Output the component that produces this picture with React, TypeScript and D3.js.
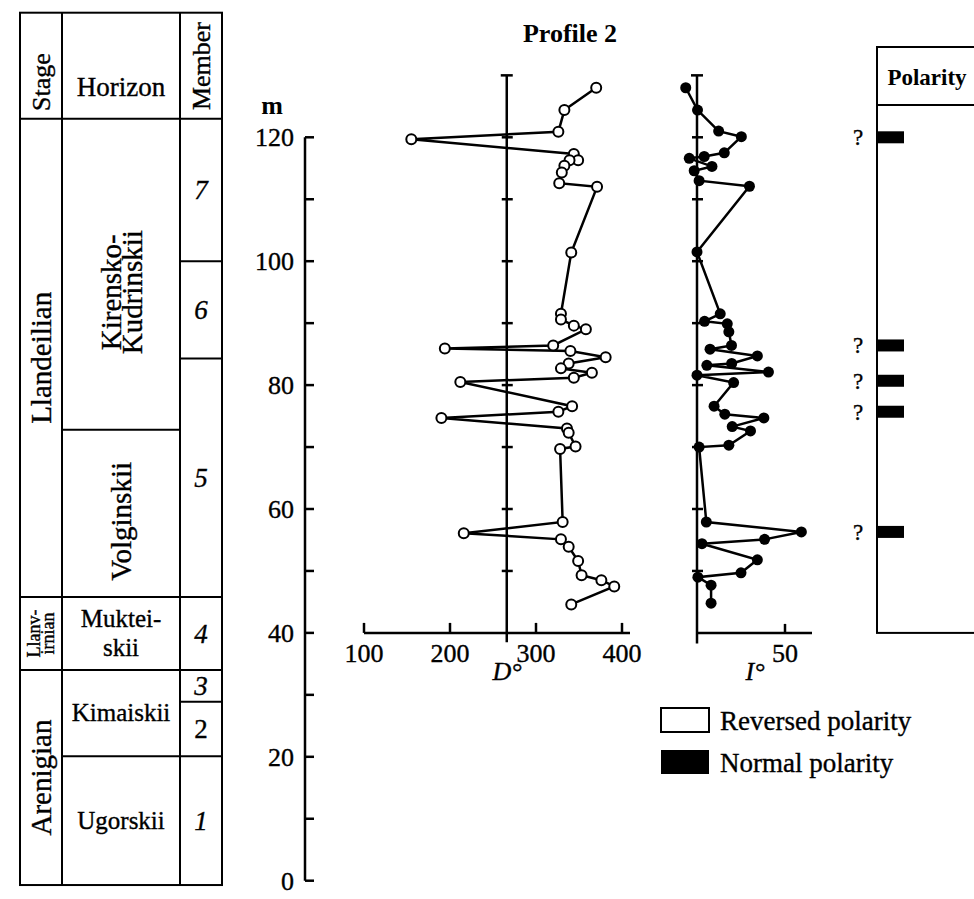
import React from 'react';
import * as d3 from 'd3';

// ---------- data ----------
const depthTicks = [0, 10, 20, 30, 40, 50, 60, 70, 80, 90, 100, 110, 120];
const depthLabels = [0, 20, 40, 60, 80, 100, 120];
const refTicks = [50, 60, 70, 80, 90, 100, 110, 120];
const dTicks = [100, 200, 300, 400];
const iTicks = [50];

// Declination D (open circles = reversed)
const dDepth = [128.0, 124.4, 120.9, 119.7, 117.3, 116.3, 116.3, 115.4, 114.3, 112.6, 112.0, 101.4, 91.5, 90.6, 89.6, 89.0, 86.4, 85.9, 85.5, 84.5, 83.5, 82.7, 82.0, 81.2, 80.5, 76.6, 75.7, 74.7, 73.0, 72.3, 70.1, 69.7, 57.9, 56.1, 55.1, 53.9, 51.6, 49.3, 48.5, 47.5, 44.6];
const dValue = [370, 333, 326, 155, 344, 349, 339, 333, 330, 327, 371, 341, 329, 329, 344, 358, 320, 194, 340, 381, 338, 329, 365, 344, 212, 342, 326, 190, 336, 338, 346, 328, 331, 216, 329, 338, 349, 353, 376, 391, 341];

// Inclination I (filled circles)
const iDepth = [128.0, 124.4, 121.0, 120.1, 117.5, 116.9, 116.6, 115.3, 114.6, 113.0, 112.1, 101.5, 91.5, 90.3, 89.9, 88.6, 86.4, 85.8, 84.7, 83.5, 83.2, 82.1, 81.6, 80.4, 76.6, 75.3, 74.7, 73.3, 72.6, 70.3, 70.0, 57.9, 56.3, 55.1, 54.4, 51.8, 49.7, 49.0, 47.7, 44.8];
const iValue = [-6.4, 0.3, 12.3, 25.2, 15.5, 4.1, -4.4, 8.5, -1.6, 1.2, 29.8, 0, 13.2, 4.3, 17.2, 18.1, 19.6, 7.4, 34.3, 19.7, 5.6, 40.6, 0, 20.8, 9.7, 15.8, 38, 20, 30.4, 18.1, 1.2, 5.3, 59.3, 38.4, 2.8, 34.3, 25, 0.5, 8, 8];

// normal polarity intervals (questionable)
const normalDepths = [120, 86.4, 80.7, 75.7, 56.3];

// stratigraphy (tops/bottoms in m)
const stageNames = ['Llandeilian', 'Llanv-|irnian', 'Arenigian'];
const stageTops = [123, 45.8, 34];
const stageBottoms = [45.8, 34, -0.7];
const horizonNames = ['Kirensko-|Kudrinskii', 'Volginskii', 'Muktei-|skii', 'Kimaiskii', 'Ugorskii'];
const horizonTops = [123, 72.8, 45.8, 34, 20.1];
const horizonBottoms = [72.8, 45.8, 34, 20.1, -0.7];
const memberNames = ['7', '6', '5', '4', '3', '2', '1'];
const memberTops = [123, 100, 84.3, 45.8, 34, 28.9, 20.1];
const memberBottoms = [100, 84.3, 45.8, 34, 28.9, 20.1, -0.7];

const FONT = "'Liberation Serif', 'Times New Roman', serif";
const TS = { stroke: '#000', strokeWidth: 0.35 };

export default function App() {
  const y = d3.scaleLinear().domain([0, 120]).range([880.7, 137.3]);
  const xD = d3.scaleLinear().domain([100, 400]).range([364, 622]);
  const xI = d3.scaleLinear().domain([0, 50]).range([697, 785]);

  const dPts: [number, number][] = dDepth.map((m, i) => [xD(dValue[i]), y(m)]);
  const iPts: [number, number][] = iDepth.map((m, i) => [xI(iValue[i]), y(m)]);
  const line = d3.line();

  const axisY = y(40);
  const refD = xD(266);
  const refTop = y(130);
  const refBottom = y(38.5);

  // column geometry
  const colX = [20, 62, 180, 222];
  const headTop = 12.7;
  const headBottom = y(123);

  const rotText = (cx: number, cy: number, txt: string, size: number, lineGap = 22) => {
    const parts = txt.split('|');
    return (
      <g transform={`translate(${cx},${cy}) rotate(-90)`}>
        <text fontFamily={FONT} fontSize={size} textAnchor="middle" dominantBaseline="central" {...TS}>
          {parts.map((p, k) => (
            <tspan key={k} x={0} y={(k - (parts.length - 1) / 2) * lineGap}>{p}</tspan>
          ))}
        </text>
      </g>
    );
  };

  return (
    <svg width={974} height={899} style={{ position: 'absolute', left: 0, top: 0, background: '#fff' }}>
      <rect x={0} y={0} width={974} height={899} fill="#fff" />
      {/* ---------- stratigraphic column ---------- */}
      <g stroke="#000" strokeWidth={2} fill="none">
        <rect x={colX[0]} y={headTop} width={colX[3] - colX[0]} height={y(-0.7) - headTop} />
        {colX.slice(1, 3).map((x, k) => (
          <line key={k} x1={x} x2={x} y1={headTop} y2={y(-0.7)} />
        ))}
        <line x1={colX[0]} x2={colX[3]} y1={headBottom} y2={headBottom} />
        {stageTops.slice(1).map((t, k) => (
          <line key={'s' + k} x1={colX[0]} x2={colX[1]} y1={y(t)} y2={y(t)} />
        ))}
        {horizonTops.slice(1).map((t, k) => (
          <line key={'h' + k} x1={colX[1]} x2={colX[2]} y1={y(t)} y2={y(t)} />
        ))}
        {memberTops.slice(1).map((t, k) => (
          <line key={'m' + k} x1={colX[2]} x2={colX[3]} y1={y(t)} y2={y(t)} />
        ))}
      </g>
      {/* headers */}
      {rotText((colX[0] + colX[1]) / 2, 82, 'Stage', 26)}
      <text x={(colX[1] + colX[2]) / 2} y={96} fontFamily={FONT} fontSize={27} textAnchor="middle" {...TS}>Horizon</text>
      {rotText((colX[2] + colX[3]) / 2, 66, 'Member', 26)}
      {/* stages */}
      {stageNames.map((n, k) => {
        const cy = (y(stageTops[k]) + y(stageBottoms[k])) / 2;
        const small = n.includes('|');
        return <g key={n}>{rotText((colX[0] + colX[1]) / 2, cy, n, small ? 18 : 29, small ? 14 : 22)}</g>;
      })}
      {/* horizons */}
      {horizonNames.map((n, k) => {
        const cy = (y(horizonTops[k]) + y(horizonBottoms[k])) / 2;
        const cx = (colX[1] + colX[2]) / 2;
        if (k === 0) return <g key={n}>{rotText(cx, cy + 18, n, 29, 21)}</g>;
        if (k === 1) return <g key={n}>{rotText(cx, cy + 8, n, 29)}</g>;
        const parts = n.split('|');
        return (
          <g key={n}>
            {parts.map((p, j) => (
              <text key={j} x={cx} y={cy + 8 + (j - (parts.length - 1) / 2) * 29} fontFamily={FONT} fontSize={25} textAnchor="middle" {...TS}>{p}</text>
            ))}
          </g>
        );
      })}
      {/* members */}
      {memberNames.map((n, k) => {
        const cy = (y(memberTops[k]) + y(memberBottoms[k])) / 2;
        return (
          <text key={n} x={(colX[2] + colX[3]) / 2} y={cy + 9} fontFamily={FONT} fontSize={27}
            fontStyle={n === '2' ? 'normal' : 'italic'} textAnchor="middle" {...TS}>{n}</text>
        );
      })}

      {/* ---------- depth axis ---------- */}
      <text x={570} y={42} fontFamily={FONT} fontSize={26} fontWeight="bold" textAnchor="middle">Profile 2</text>
      <text x={272} y={114} fontFamily={FONT} fontSize={26} fontWeight="bold" textAnchor="middle">m</text>
      <g stroke="#000" strokeWidth={2.5}>
        <line x1={305} x2={305} y1={y(120)} y2={y(0)} />
        {depthTicks.map((t) => (
          <line key={t} x1={305} x2={314} y1={y(t)} y2={y(t)} />
        ))}
      </g>
      {depthLabels.map((t) => (
        <text key={t} x={294} y={y(t) + 9} fontFamily={FONT} fontSize={26} textAnchor="end" {...TS}>{t}</text>
      ))}

      {/* ---------- D panel ---------- */}
      <g stroke="#000" strokeWidth={2.5}>
        <line x1={xD(100)} x2={630} y1={axisY} y2={axisY} />
        {dTicks.map((t) => (
          <line key={t} x1={xD(t)} x2={xD(t)} y1={axisY} y2={axisY - 10} />
        ))}
        <line x1={refD} x2={refD} y1={refTop} y2={refBottom} />
        <line x1={refD - 6} x2={refD + 6} y1={refTop} y2={refTop} />
        {refTicks.map((t) => (
          <line key={t} x1={refD - 5} x2={refD + 6} y1={y(t)} y2={y(t)} />
        ))}
      </g>
      {dTicks.map((t) => (
        <text key={t} x={xD(t)} y={axisY + 29} fontFamily={FONT} fontSize={26} textAnchor="middle" {...TS}>{t}</text>
      ))}
      <text x={507} y={axisY + 47} fontFamily={FONT} fontSize={26} fontStyle="italic" textAnchor="middle" {...TS}>D°</text>
      <path d={line(dPts) || ''} fill="none" stroke="#000" strokeWidth={2.5} />
      {dPts.map((p, k) => (
        <circle key={k} cx={p[0]} cy={p[1]} r={5} fill="#fff" stroke="#000" strokeWidth={2} />
      ))}

      {/* ---------- I panel ---------- */}
      <g stroke="#000" strokeWidth={2.5}>
        <line x1={xI(0)} x2={812} y1={axisY} y2={axisY} />
        {iTicks.map((t) => (
          <line key={t} x1={xI(t)} x2={xI(t)} y1={axisY} y2={axisY - 9} />
        ))}
        <line x1={xI(0)} x2={xI(0)} y1={refTop} y2={y(38.3)} />
        <line x1={xI(0) - 6} x2={xI(0) + 6} y1={refTop} y2={refTop} />
        {refTicks.map((t) => (
          <line key={t} x1={xI(0) - 5} x2={xI(0) + 6} y1={y(t)} y2={y(t)} />
        ))}
      </g>
      {iTicks.map((t) => (
        <text key={t} x={xI(t)} y={axisY + 29} fontFamily={FONT} fontSize={26} textAnchor="middle" {...TS}>{t}</text>
      ))}
      <text x={755} y={axisY + 47} fontFamily={FONT} fontSize={26} fontStyle="italic" textAnchor="middle" {...TS}>I°</text>
      <path d={line(iPts) || ''} fill="none" stroke="#000" strokeWidth={2.5} />
      {iPts.map((p, k) => (
        <circle key={k} cx={p[0]} cy={p[1]} r={5.5} fill="#000" />
      ))}

      {/* ---------- polarity column ---------- */}
      <g stroke="#000" strokeWidth={2} fill="none">
        <rect x={877} y={47} width={130} height={y(40) - 47} />
        <line x1={877} x2={974} y1={105} y2={105} />
      </g>
      <text x={927} y={85} fontFamily={FONT} fontSize={23} fontWeight="bold" textAnchor="middle">Polarity</text>
      {normalDepths.map((m) => (
        <g key={m}>
          <rect x={877} y={y(m) - 6} width={27} height={12} fill="#000" />
          <text x={858} y={y(m) + 8} fontFamily={FONT} fontSize={23} textAnchor="middle" {...TS}>?</text>
        </g>
      ))}

      {/* ---------- legend ---------- */}
      <rect x={661} y={708} width={48} height={24} fill="#fff" stroke="#000" strokeWidth={2} />
      <text x={720} y={730} fontFamily={FONT} fontSize={27} {...TS}>Reversed polarity</text>
      <rect x={661} y={750} width={48} height={24} fill="#000" />
      <text x={720} y={772} fontFamily={FONT} fontSize={27} {...TS}>Normal polarity</text>
    </svg>
  );
}
